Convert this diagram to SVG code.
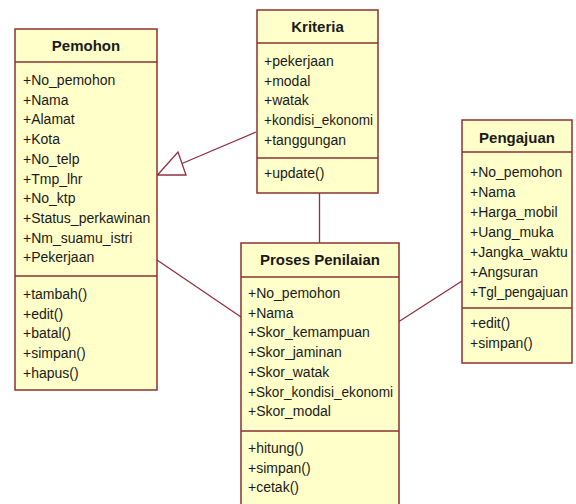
<svg xmlns="http://www.w3.org/2000/svg" width="576" height="504" viewBox="0 0 576 504">
  <style>
    .box { fill: #ffffc9; stroke: #8a3232; stroke-width: 1.5; }
    .sep { stroke: #8a3232; stroke-width: 1.5; }
    .title { font-family: "Liberation Sans", Arial, sans-serif; font-size: 15px; font-weight: bold; fill: #1a1a1a; text-anchor: middle; }
    .item { font-family: "Liberation Sans", Arial, sans-serif; font-size: 14px; fill: #1a1a1a; }
    .link { fill: none; stroke: #8e3040; stroke-width: 1.3; }
    .head { fill: #ffffff; stroke: #8e3040; stroke-width: 1.3; }
  </style>
  <rect width="576" height="504" fill="#ffffff"/>

  <g id="connectors">
    <!-- Kriteria generalises to Pemohon -->
    <path class="link" d="M256,132 L182,163.5"/>
    <polygon class="head" points="157.5,175 178,152 186,175"/>
    <!-- Kriteria to Proses Penilaian -->
    <path class="link" d="M319.5,193 L319.5,243"/>
    <!-- Pemohon to Proses Penilaian -->
    <path class="link" d="M157,260 L241,317"/>
    <!-- Proses Penilaian to Pengajuan -->
    <path class="link" d="M399,321.5 L462,281"/>
  </g>

  <g id="pemohon">
    <rect class="box" x="15" y="29" width="142" height="361"/>
    <line class="sep" x1="15" y1="62" x2="157" y2="62"/>
    <line class="sep" x1="15" y1="276" x2="157" y2="276"/>
    <text class="title" x="86" y="51">Pemohon</text>
    <text class="item" x="23" y="85">+No_pemohon</text>
    <text class="item" x="23" y="104.7">+Nama</text>
    <text class="item" x="23" y="124.4">+Alamat</text>
    <text class="item" x="23" y="144.1">+Kota</text>
    <text class="item" x="23" y="163.8">+No_telp</text>
    <text class="item" x="23" y="183.5">+Tmp_lhr</text>
    <text class="item" x="23" y="203.2">+No_ktp</text>
    <text class="item" x="23" y="222.9">+Status_perkawinan</text>
    <text class="item" x="23" y="242.6">+Nm_suamu_istri</text>
    <text class="item" x="23" y="262.3">+Pekerjaan</text>
    <text class="item" x="23" y="299">+tambah()</text>
    <text class="item" x="23" y="318.7">+edit()</text>
    <text class="item" x="23" y="338.4">+batal()</text>
    <text class="item" x="23" y="358.1">+simpan()</text>
    <text class="item" x="23" y="377.8">+hapus()</text>
  </g>

  <g id="kriteria">
    <rect class="box" x="257" y="10" width="121" height="183"/>
    <line class="sep" x1="257" y1="43" x2="378" y2="43"/>
    <line class="sep" x1="257" y1="158" x2="378" y2="158"/>
    <text class="title" x="317.5" y="32">Kriteria</text>
    <text class="item" x="264" y="66">+pekerjaan</text>
    <text class="item" x="264" y="85.7">+modal</text>
    <text class="item" x="264" y="105.4">+watak</text>
    <text class="item" x="264" y="125.1" textLength="109" lengthAdjust="spacingAndGlyphs">+kondisi_ekonomi</text>
    <text class="item" x="264" y="144.8">+tanggungan</text>
    <text class="item" x="264" y="178">+update()</text>
  </g>

  <g id="pengajuan">
    <rect class="box" x="462" y="120" width="110" height="243"/>
    <line class="sep" x1="462" y1="152" x2="572" y2="152"/>
    <line class="sep" x1="462" y1="308" x2="572" y2="308"/>
    <text class="title" x="517" y="143">Pengajuan</text>
    <text class="item" x="470" y="177">+No_pemohon</text>
    <text class="item" x="470" y="197">+Nama</text>
    <text class="item" x="470" y="217">+Harga_mobil</text>
    <text class="item" x="470" y="237">+Uang_muka</text>
    <text class="item" x="470" y="257">+Jangka_waktu</text>
    <text class="item" x="470" y="277">+Angsuran</text>
    <text class="item" x="470" y="297" textLength="98" lengthAdjust="spacingAndGlyphs">+Tgl_pengajuan</text>
    <text class="item" x="470" y="328">+edit()</text>
    <text class="item" x="470" y="348">+simpan()</text>
  </g>

  <g id="proses-penilaian">
    <rect class="box" x="241" y="243" width="158" height="270"/>
    <line class="sep" x1="241" y1="277" x2="399" y2="277"/>
    <line class="sep" x1="241" y1="431" x2="399" y2="431"/>
    <text class="title" x="320" y="265">Proses Penilaian</text>
    <text class="item" x="248" y="298">+No_pemohon</text>
    <text class="item" x="248" y="317.7">+Nama</text>
    <text class="item" x="248" y="337.4">+Skor_kemampuan</text>
    <text class="item" x="248" y="357.1">+Skor_jaminan</text>
    <text class="item" x="248" y="376.8">+Skor_watak</text>
    <text class="item" x="248" y="396.5" textLength="145" lengthAdjust="spacingAndGlyphs">+Skor_kondisi_ekonomi</text>
    <text class="item" x="248" y="416.2">+Skor_modal</text>
    <text class="item" x="248" y="453">+hitung()</text>
    <text class="item" x="248" y="472.7">+simpan()</text>
    <text class="item" x="248" y="492.4">+cetak()</text>
  </g>
</svg>
